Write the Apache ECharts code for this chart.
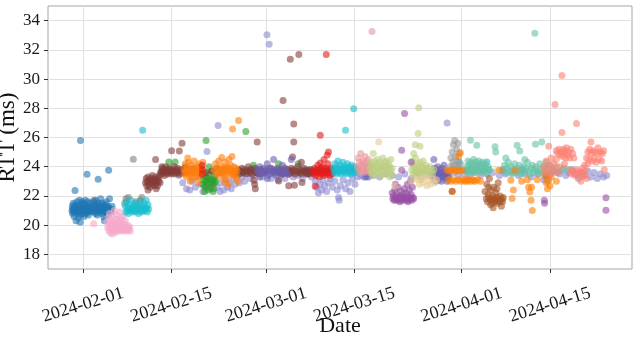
<!DOCTYPE html>
<html><head><meta charset="utf-8">
<script src="https://cdn.jsdelivr.net/npm/echarts@6/dist/echarts.min.js"></script>
<style>html,body{margin:0;padding:0;background:#fff}#c{width:640px;height:342px}</style>
</head><body><div id="c"></div>
<script>
// Each point: [days since 2024-02-01, RTT in ms]
const yTicks = [18,20,22,24,26,28,30,32,34];
const xTickLabels = ['2024-02-01','2024-02-15','2024-03-01','2024-03-15','2024-04-01','2024-04-15'];

const lavender = [[15.2,23.4],[15.8,22.9],[16.4,22.5],[16.9,22.4],[17.3,23.0],[17.8,22.6],[18.2,23.3],[18.6,22.8],[19.0,22.3],[19.4,22.7],[19.65,25.04],[19.8,23.2],[20.2,22.5],[20.6,22.9],[21.0,23.4],[21.4,26.82],[21.3,22.6],[21.7,22.3],[22.0,22.9],[22.3,22.4],[22.6,23.1],[22.9,22.6],[23.2,22.9],[23.5,22.5],[23.8,23.2],[24.1,22.8],[24.4,23.4],[24.8,22.9],[25.2,23.3],[25.6,23.0],[26.0,23.5],[26.5,23.2],[27.0,23.4],[27.5,23.6],[28.0,23.5],[28.4,23.3],[28.8,23.6],[29.15,33.03],[29.5,32.39],[29.3,23.4],[29.8,23.2],[30.3,23.5],[30.9,23.1],[31.4,23.4],[32.0,23.2],[32.6,23.5],[33.3,23.3],[34.0,23.4],[34.8,23.2],[35.5,23.5],[36.2,23.3],
[36.8,23.0],[37.0,22.6],[37.3,22.2],[37.5,22.8],[37.8,22.4],[38.0,23.1],[38.3,22.7],[38.6,22.3],[38.9,22.9],[39.2,23.2],[39.5,22.6],[39.9,23.0],[40.3,22.4],[40.5,21.9],[40.6,21.7],[40.8,22.7],[41.2,23.1],[41.6,22.5],[42.0,22.9],[42.3,22.3],[42.7,23.2],[43.1,22.8],[43.5,23.3],[44.0,23.4],[44.5,23.3],[45.0,23.5],
[46.0,23.4],[47.0,23.3],[48.0,23.5],[49.0,23.4],[50.0,23.3],[51.0,23.5],[52.0,23.2],[52.8,23.6],[53.5,23.3],[54.2,23.5],[55.0,23.4],[55.8,23.2],[56.5,23.5],[57.2,23.4],[57.7,27.0],[58.0,23.3],[58.8,23.6],[59.5,23.4],[60.5,23.5],[61.3,23.3],[62.0,23.6],[63.0,23.4],[64.0,23.5],[65.0,23.6],[66.0,23.4],[67.0,23.5],[68.0,23.6],[69.0,23.4],[70.0,23.5],[71.0,23.3],[72.0,23.5],[73.0,23.1],[73.3,23.3],[73.6,23.0],[74.0,23.5],[74.5,23.7],[75.0,23.6],[75.5,23.5],[76.0,23.8],[76.5,23.4],[77.0,23.6],[77.5,23.8],[78.0,23.5],[78.5,23.2],[79.0,23.6],[79.5,23.4],[80.0,23.7],[80.5,23.3],[81.0,23.6],[81.5,23.2],[82.0,23.5],[82.5,23.3],[83.0,23.4]];

const grayA = [[1.7,21.7],[6.6,21.5],[6.8,21.8],[7.2,21.9],[7.97,24.51],[8.4,21.6],[9.1,21.7],[9.3,21.9]];

const blue = [[-1.75,21.0],[-1.7,21.3],[-1.66,20.8],[-1.6,21.1],[-1.55,21.5],[-1.5,20.9],[-1.45,21.2],[-1.4,20.6],[-1.35,21.0],[-1.27,22.37],[-1.25,21.4],[-1.2,20.9],[-1.15,21.1],[-1.1,20.3],[-1.05,21.3],[-1.0,21.0],[-0.95,21.6],[-0.9,20.8],[-0.85,21.2],[-0.8,21.0],[-0.75,20.5],[-0.7,21.3],[-0.65,21.1],[-0.6,20.9],[-0.55,21.7],[-0.5,21.0],[-0.45,20.2],[-0.45,21.2],[-0.4,25.8],[-0.4,20.7],[-0.35,21.1],[-0.3,21.4],[-0.25,20.9],[-0.2,21.0],[-0.15,21.6],[-0.1,21.2],[-0.05,20.8],[0.0,21.1],[0.05,21.5],[0.1,21.0],[0.15,20.6],[0.2,21.3],[0.25,21.1],[0.3,20.9],[0.35,21.7],[0.4,21.2],[0.45,20.8],[0.5,21.0],[0.55,21.4],[0.63,23.49],[0.65,20.9],[0.7,21.2],[0.75,21.0],[0.8,21.6],[0.85,20.7],[0.9,21.1],[0.95,21.3],[1.0,20.9],[1.1,21.5],[1.2,21.0],[1.3,21.2],
[1.6,21.3],[1.65,21.0],[1.7,21.6],[1.75,20.9],[1.8,21.2],[1.9,21.4],[1.95,20.8],[2.0,21.1],[2.05,21.7],[2.1,21.0],[2.2,21.3],[2.25,20.7],[2.3,21.2],[2.4,23.14],[2.4,21.5],[2.45,21.0],[2.5,21.2],[2.6,20.9],[2.65,21.4],[2.7,21.1],[2.8,21.8],[2.85,21.0],[2.9,21.3],[3.0,20.8],[3.05,21.2],[3.1,21.5],[3.2,21.0],[3.25,21.3],[3.3,20.6],[3.4,20.3],[3.4,21.1],[3.5,21.4],[3.55,20.9],[3.6,21.2],[3.7,21.6],[3.75,21.0],[3.8,20.8],[3.9,21.3],[3.95,21.1],[4.0,20.7],[4.06,23.76],[4.1,21.2],[4.2,21.8],[4.3,21.0],[4.4,20.9],[4.5,21.1],[4.6,21.3]];

const pink = [[1.7,20.1],[3.8,20.2],[3.9,19.8],[4.0,20.5],[4.1,19.6],[4.15,20.0],[4.2,20.8],[4.3,19.9],[4.35,19.5],[4.4,20.3],[4.5,19.7],[4.55,20.1],[4.6,19.4],[4.7,20.6],[4.75,19.9],[4.8,20.2],[4.9,19.6],[4.95,21.0],[5.0,19.8],[5.1,20.4],[5.15,19.5],[5.2,20.0],[5.3,20.7],[5.35,19.7],[5.4,20.1],[5.5,19.9],[5.55,20.4],[5.6,19.6],[5.7,20.2],[5.75,19.8],[5.8,20.9],[5.9,19.7],[5.95,20.3],[6.0,19.9],[6.1,20.5],[6.15,19.6],[6.2,20.0],[6.3,19.8],[6.35,20.6],[6.4,19.7],[6.5,20.1],[6.55,19.9],[6.6,19.6],[6.7,20.3],[6.8,19.8],[6.9,19.7],[7.0,20.0],[7.1,19.6],[7.2,19.8],[7.3,19.7],[7.4,19.9],[7.5,19.6]];

const cyanA = [[6.7,21.3],[6.8,20.9],[6.9,21.6],[7.0,21.0],[7.1,21.2],[7.2,20.8],[7.3,21.4],[7.4,21.1],[7.5,21.0],[7.6,21.7],[7.7,21.2],[7.8,20.9],[7.9,21.1],[8.0,21.3],[8.1,21.0],[8.2,21.5],[8.3,20.9],[8.4,21.2],[8.5,21.0],[8.6,21.4],[8.7,21.1],[8.8,20.8],[8.9,21.2],[9.0,21.0],[9.1,21.6],[9.2,21.1],[9.3,20.9],[9.45,26.5],[9.4,21.3],[9.5,21.0],[9.6,21.2],[9.7,21.5],[9.8,21.0],[9.9,21.1],[10.0,21.7],[10.1,21.2],[10.2,20.9],[10.3,21.4],[10.4,21.1]];

const maroon = [[9.9,22.9],[10.0,23.2],[10.1,22.7],[10.2,23.0],[10.3,23.3],[10.3,22.4],[10.4,22.8],[10.5,23.1],[10.6,22.6],[10.7,23.0],[10.8,23.2],[10.9,22.9],[11.0,23.4],[11.1,22.8],[11.2,23.1],[11.3,22.7],[11.4,23.0],[11.5,24.5],[11.5,23.3],[11.6,22.9],[11.6,22.5],[11.7,23.1],[11.8,22.7],[11.9,23.2],[12.0,23.0],[12.1,23.4],[12.2,22.9],[12.3,23.6],[12.5,24.0],
[12.4,23.7],[12.5,23.5],[12.6,23.9],[12.7,23.6],[12.8,23.8],[12.9,23.4],[13.0,23.7],[13.1,24.0],[13.2,23.6],[13.3,23.8],[13.4,23.5],[13.5,23.7],[13.6,23.9],[13.7,23.6],[13.8,23.8],[13.9,23.7],[14.04,25.1],[14.0,23.5],[14.2,23.8],[14.3,23.6],[14.4,24.0],[14.5,23.7],[14.6,23.5],[14.8,23.8],[14.9,23.6],[15.0,23.9],[15.2,23.7],[15.26,25.08],[15.3,23.5],[15.5,23.8],[15.7,25.6],[15.7,23.6],[15.9,23.7],[16.1,23.9],[16.3,23.6],[16.6,23.7],[17.0,23.8],[17.4,23.6],
[18.0,23.7],[18.6,23.8],[19.5,23.6],[20.4,23.7],[21.2,23.9],[22.0,23.6],[22.6,23.8],[23.4,23.7],[24.2,23.6],[24.6,23.8],[24.8,23.5],[25.0,23.7],[25.2,23.9],[25.4,23.6],[25.6,23.8],[25.8,23.5],[26.0,23.7],[26.2,24.0],[26.4,23.6],[26.6,23.8],[26.8,23.5],[27.0,23.7],[27.2,23.9],[27.1,23.07],[27.3,22.5],[27.2,22.8],[27.4,23.6],[27.6,25.7],[27.6,23.8],[27.8,23.5],[28.0,23.7],
[28.2,23.8],[28.6,23.6],[29.0,23.7],[29.6,23.9],[30.2,23.7],[30.8,23.8],[31.0,23.03],[31.2,23.6],[31.4,23.8],[31.6,23.5],[31.7,28.53],[31.8,23.7],[32.0,23.9],[32.2,23.6],[32.4,23.8],[32.6,22.7],[32.6,23.5],[32.85,31.36],[32.8,23.7],[33.0,23.9],[33.2,24.67],[33.2,23.6],[33.4,26.93],[33.4,25.7],[33.5,22.73],[33.4,23.8],[33.6,23.5],[33.8,23.7],[34.0,24.0],[34.2,31.68],[34.2,23.6],[34.4,23.8],[34.6,24.3],[34.7,22.92],[34.6,23.5],[34.8,23.7],[35.0,23.9],[35.2,23.6],[35.5,23.5],[35.4,23.8],[35.6,23.7],[35.8,23.5],[36.0,23.8],[36.2,23.6],[36.4,23.7]];

const green = [[18.9,23.4],[19.0,22.8],[19.1,23.1],[19.2,23.6],[19.3,22.6],[19.3,22.3],[19.4,23.0],[19.5,25.79],[19.5,23.3],[19.6,22.7],[19.7,23.1],[19.8,22.4],[19.9,23.5],[20.0,22.9],[20.0,24.0],[20.1,23.2],[20.2,22.6],[20.3,23.0],[20.4,23.7],[20.5,22.8],[20.6,23.1],[20.6,22.3],[20.7,22.5],[20.8,23.3],[20.9,22.9],[21.0,23.0],
[13.6,24.33],[14.6,24.33],[16.2,24.0],[17.5,23.9],[21.8,23.8],[24.8,23.7],[25.3,23.6],[25.8,26.41],[26.0,23.7],[26.5,23.8],[27.0,24.1],[27.5,23.6],[28.3,23.7],[30.5,23.6],[31.0,24.2],[31.4,23.7],[32.3,23.6],[33.1,23.7],[34.1,24.2],[34.5,23.6],[35.1,23.7],[35.7,23.6],[36.1,23.8]];

const orangeA = [[16.0,23.8],[16.1,23.5],[16.2,24.2],[16.3,23.7],[16.4,23.3],[16.5,23.9],[16.6,23.6],[16.6,24.6],[16.7,24.3],[16.8,23.8],[16.9,23.4],[17.0,23.7],[17.0,23.0],[17.1,24.1],[17.2,23.5],[17.3,23.9],[17.4,23.2],[17.5,23.7],[17.6,24.4],[17.7,23.6],[17.8,23.8],[17.9,23.3],[18.0,24.0],[18.1,23.6],[18.2,23.9],[18.3,23.4],[18.3,22.9],[18.4,24.2],[18.5,23.7],[18.6,23.5],[18.7,24.0],[18.8,23.8],[18.9,23.6],[19.0,24.3],
[20.8,23.8],[21.0,24.2],[21.1,23.5],[21.2,23.9],[21.4,23.6],[21.5,24.4],[21.6,23.7],[21.8,23.3],[21.9,24.0],[22.0,24.63],[22.1,23.6],[22.2,23.9],[22.3,23.4],[22.4,23.8],[22.5,24.3],[22.5,22.9],[22.6,23.7],[22.7,23.2],[22.8,24.0],[22.9,23.6],[23.0,23.9],[23.0,22.8],[23.1,24.5],[23.2,23.5],[23.3,23.8],[23.4,24.1],[23.5,23.6],[23.6,24.7],[23.7,26.59],[23.7,23.7],[23.8,23.4],[23.9,24.0],[24.0,23.7],[24.1,23.5],[24.2,23.9],[24.3,23.2],[24.4,23.7],[24.5,23.0],[24.65,27.16]];

const red = [[18.9,24.1],[18.95,23.8],[18.9,23.5],[36.5,23.7],[36.6,23.5],[36.7,23.9],[36.8,23.6],[36.8,22.66],[36.9,23.4],[37.0,23.8],[37.1,23.6],[37.2,24.1],[37.3,23.7],[37.4,23.3],[37.5,23.8],[37.6,26.16],[37.6,24.26],[37.6,23.6],[37.7,23.9],[37.8,23.5],[37.9,23.7],[38.0,24.0],[38.1,23.6],[38.2,23.4],[38.2,24.5],[38.3,23.8],[38.4,23.6],[38.55,31.68],[38.5,23.9],[38.6,23.5],[38.7,23.7],[38.7,24.8],[38.8,24.2],[38.9,25.0],[38.9,23.6],[39.0,23.8],[39.1,23.4],[39.2,23.7],[39.3,23.9],[39.4,23.5],[39.5,23.7],[39.6,23.6],[39.7,23.8]];

const slate = [[27.6,23.8],[27.8,23.6],[28.0,24.0],[28.0,23.3],[28.2,23.7],[28.4,23.5],[28.6,23.9],[28.8,23.6],[29.0,23.8],[29.2,24.2],[29.2,23.2],[29.4,23.7],[29.6,23.5],[29.8,23.9],[30.0,23.6],[30.2,24.5],[30.2,23.8],[30.4,23.7],[30.6,23.4],[30.8,23.9],[31.0,23.6],[31.2,23.8],[31.4,23.5],[31.6,24.1],[31.8,23.7],[32.0,23.6],[32.2,23.8],[32.4,23.5],[33.0,24.5],[44.8,23.3],[45.2,23.3],
[55.5,23.6],[55.6,23.2],[55.6,24.5],[55.7,23.9],[55.8,23.4],[55.9,23.0],[56.0,23.7],[56.1,23.3],[56.2,24.0],[56.3,23.5],[56.4,23.1],[56.5,23.8],[56.6,23.4],[56.7,23.6],[56.8,23.0],[56.9,23.9],[57.0,23.3],[57.1,23.6],[57.2,24.1],[57.3,23.4],[57.4,23.2],[57.5,23.7],[57.6,23.5],[57.7,23.0],[57.8,23.6],[57.9,23.3],[66.5,23.76],[69.5,23.76],[73.5,23.4]];

const cyanB = [[39.7,23.9],[39.8,23.6],[39.9,24.2],[40.0,23.8],[40.1,23.5],[40.2,24.0],[40.3,23.7],[40.4,24.4],[40.5,23.9],[40.6,23.6],[40.7,23.8],[40.8,24.1],[40.9,23.5],[41.0,23.9],[41.1,23.7],[41.2,24.3],[41.3,23.8],[41.4,23.6],[41.5,24.0],[41.6,26.5],[41.6,23.7],[41.7,23.9],[41.8,23.5],[41.9,24.2],[42.0,23.8],[42.1,23.6],[42.2,24.0],[42.3,23.7],[42.4,23.9],[42.5,23.5],[42.6,24.1],[42.7,23.8],[42.8,23.6],[42.9,27.96],[42.9,23.9],[43.0,23.7],[43.1,24.0],[43.2,23.6],[43.4,23.8],[43.5,23.7],[59.6,24.33],[60.5,23.76],[61.0,23.76],[64.0,24.33],[64.3,23.8]];

const pinkB = [[43.5,24.0],[43.6,24.6],[43.7,23.8],[43.8,24.3],[43.9,23.6],[44.0,24.9],[44.1,24.1],[44.2,23.7],[44.3,24.4],[44.4,23.9],[44.5,24.2],[44.6,23.6],[44.7,24.7],[44.8,24.0],[44.9,23.8],[45.0,24.3],[45.1,23.7],[45.2,24.5],[45.3,23.9],[45.4,24.1],[45.5,23.6],[45.6,24.0],[45.8,33.26]];

const yellowGreen = [[45.5,23.9],[45.6,24.3],[45.7,23.6],[45.8,24.0],[45.9,23.4],[46.0,24.9],[46.0,24.1],[46.1,23.7],[46.2,24.4],[46.3,23.9],[46.4,23.5],[46.5,24.2],[46.6,23.8],[46.7,24.5],[46.8,24.0],[46.9,23.6],[47.0,24.3],[47.1,23.9],[47.2,23.4],[47.3,24.1],[47.4,23.7],[47.5,24.6],[47.6,24.0],[47.7,23.8],[47.8,24.3],[47.9,23.5],[48.0,24.0],[48.1,24.4],[48.2,23.7],[48.3,23.9],[48.4,24.2],[48.5,23.6],[48.6,24.0],[48.6,23.3],[48.7,23.8],[48.8,24.5],[48.9,23.5],[49.0,23.9],
[52.1,23.8],[52.2,24.4],[52.3,23.5],[52.4,24.1],[52.4,24.9],[52.5,23.9],[52.65,25.5],[52.6,23.6],[52.7,24.6],[52.8,23.8],[52.9,23.3],[53.0,24.2],[53.1,26.27],[53.1,23.7],[53.2,28.03],[53.2,24.0],[53.3,23.5],[53.4,25.4],[53.4,24.3],[53.5,23.8],[53.6,23.1],[53.7,24.0],[53.8,23.6],[53.9,24.4],[54.0,23.9],[54.1,23.4],[54.2,23.7],[54.3,24.1],[54.4,23.8],[54.5,23.5],[54.6,23.9],[54.8,23.6],[55.0,24.0],[55.2,23.7],[55.4,23.5],[55.6,23.8]];

const purple = [[49.0,22.2],[49.1,21.8],[49.2,22.0],[49.3,21.7],[49.4,22.4],[49.5,21.9],[49.5,22.8],[49.6,21.7],[49.7,22.1],[49.8,21.8],[49.9,22.6],[50.0,21.9],[50.1,21.7],[50.2,22.0],[50.2,21.6],[50.3,21.8],[50.4,22.3],[50.5,25.13],[50.5,23.76],[50.5,21.9],[50.6,21.7],[50.7,22.1],[50.8,21.8],[50.9,22.5],[50.96,27.64],[51.0,21.9],[51.1,21.7],[51.2,22.2],[51.3,21.8],[51.4,22.8],[51.5,22.0],[51.5,21.6],[51.6,21.7],[51.7,22.4],[51.8,21.9],[51.9,23.0],[51.9,21.8],[52.0,24.3],[52.0,22.1],[52.1,21.7],[52.2,22.6],[52.3,21.9],[52.4,21.8],[73.1,21.7],[73.15,21.5],[82.87,21.87],[82.87,21.02]];

const tan = [[46.85,25.7],[49.4,22.7],[52.0,23.0],[53.0,23.1],[53.3,22.8],[53.6,23.2],[53.9,22.9],[54.2,23.3],[54.5,22.7],[54.8,23.0],[55.1,22.8],[55.4,23.2],[55.7,22.9],[56.0,23.1],[62.2,23.07],[65.6,23.76]];

const grayB = [[58.2,24.0],[58.3,24.6],[58.4,23.8],[58.5,25.0],[58.6,24.3],[58.7,25.5],[58.8,24.1],[58.9,25.8],[59.0,24.7],[59.1,23.9],[59.2,25.2],[59.3,24.4],[59.4,25.6],[59.5,24.0],[59.6,24.9],[59.7,23.8],[59.8,24.2]];

const teal = [[60.8,24.0],[60.9,23.6],[61.0,24.4],[61.1,23.8],[61.2,24.1],[61.4,25.82],[61.3,23.7],[61.4,24.3],[61.5,23.9],[61.6,23.6],[61.7,24.2],[61.8,23.8],[61.9,24.5],[62.0,24.0],[62.1,23.7],[62.2,24.3],[62.3,23.9],[62.4,25.47],[62.4,23.6],[62.5,24.1],[62.6,23.8],[62.7,24.4],[62.8,24.0],[62.9,23.7],[63.0,24.2],[63.1,23.9],[63.2,23.6],[63.3,24.3],[63.4,23.8],[63.5,24.0],[63.6,23.7],[63.7,24.2],[63.8,23.9],[64.0,23.6],[64.2,24.0],[64.4,23.8],[65.3,25.36],[65.4,25.0],
[66.6,23.8],[66.8,24.1],[67.0,23.6],[67.0,24.6],[67.2,23.9],[67.4,24.3],[67.6,23.7],[67.8,24.0],[68.0,23.5],[68.2,23.8],[68.4,24.2],[68.6,23.6],[68.8,25.47],[68.8,23.9],[69.0,23.7],[69.2,25.08],[69.2,24.1],[69.4,23.5],[69.6,23.8],[69.8,24.0],[70.0,23.6],[70.0,24.5],[70.2,23.9],[70.4,24.3],[70.6,23.7],[70.8,23.5],[71.0,23.9],[71.2,24.1],[71.4,23.6],[71.6,33.14],[71.6,23.8],[71.7,25.54],[71.8,24.0],[72.0,23.7],[72.2,23.5],[72.4,24.2],[72.6,23.8],[72.7,25.7],[72.8,23.6],[73.0,24.0],[73.2,23.7],[73.4,24.3],[73.6,23.9],[73.8,23.6],[74.0,24.1],[74.4,23.8],[75.0,24.0],[75.6,23.7],[76.2,23.9],[76.8,23.8]];

const orangeB = [[57.7,23.76],[57.9,23.1],[58.1,23.7],[58.3,23.0],[58.5,23.8],[58.5,22.3],[58.7,23.1],[58.9,23.7],[59.1,23.0],[59.3,23.76],[59.5,24.7],[59.5,23.1],[59.7,23.7],[59.8,24.95],[59.9,23.0],[60.1,23.76],[60.3,23.1],[60.5,23.0],[60.7,23.1],[60.9,23.0],[61.2,23.1],[61.5,23.0],[61.8,23.1],[62.1,23.0],[62.5,23.1],[63.0,23.0],[66.0,23.76],[67.8,23.07],[68.0,21.82],[68.2,22.4],[68.5,23.76],[69.5,23.0],[70.4,23.1],[70.6,22.6],[70.8,22.27],[71.0,21.7],[71.1,22.6],[71.2,21.0],[72.0,23.1],[73.2,23.4],[73.4,22.9],[73.6,22.5],[73.8,23.1],[74.0,22.7],[74.2,23.3],[75.0,23.0]];

const brown = [[58.5,22.32],[63.7,22.3],[63.9,21.8],[64.0,22.8],[64.1,21.6],[64.2,22.1],[64.3,21.9],[64.3,22.6],[64.4,23.2],[64.5,21.7],[64.6,22.4],[64.6,21.4],[64.7,21.8],[64.8,21.5],[64.9,22.0],[65.0,21.7],[65.0,21.2],[65.1,22.6],[65.2,21.8],[65.3,21.6],[65.4,22.2],[65.5,21.7],[65.6,21.9],[65.6,22.5],[65.7,21.5],[65.8,22.9],[65.9,21.8],[66.0,21.6],[66.1,22.0],[66.2,21.7],[66.3,21.3],[66.4,21.8],[66.5,21.6],[66.6,21.9]];

const salmon = [[73.0,24.0],[73.2,23.6],[73.4,24.4],[73.6,23.8],[73.8,25.4],[73.8,24.1],[74.0,23.5],[74.2,24.6],[74.4,23.9],[74.6,24.2],[74.8,28.26],[74.8,23.7],[75.0,24.5],[75.0,25.1],[75.2,24.9],[75.3,23.6],[75.4,25.2],[75.5,24.0],[75.6,24.8],[75.8,25.0],[75.9,26.34],[75.9,30.25],[76.0,24.7],[76.1,25.2],[76.2,24.9],[76.3,24.2],[76.4,25.1],[76.5,24.6],[76.6,25.3],[76.8,24.8],[77.0,25.0],[77.1,24.6],[77.2,23.8],[77.3,25.2],[77.4,23.5],[77.6,24.9],[77.7,23.7],[77.8,24.6],[78.0,23.4],[78.2,26.96],[78.2,23.8],[78.4,23.5],[78.6,23.7],[78.8,23.3],[78.9,23.0],[79.0,23.6],[79.2,23.9],[79.4,23.4],[79.5,24.1],[79.6,23.7],[79.8,23.2],[79.8,24.6],[80.0,24.2],[80.0,25.0],[80.2,24.5],[80.3,25.2],[80.5,25.7],[80.5,24.9],[80.7,24.4],[80.8,25.1],[81.0,24.6],[81.2,25.0],[81.3,24.3],[81.5,24.9],[81.6,25.3],[81.8,24.5],[82.0,25.0],[82.2,24.4],[82.3,24.9],[82.5,25.1],[82.6,23.8]];

const groups = [
  ['lavender', lavender, '#8c8ad0'],
  ['grayA', grayA, '#7f7f7f'],
  ['blue', blue, '#1f77b4'],
  ['pink', pink, '#f7a8cc'],
  ['cyanA', cyanA, '#17becf'],
  ['green', green, '#2ca02c'],
  ['maroon', maroon, '#843c39'],
  ['orangeA', orangeA, '#ff7f0e'],
  ['red', red, '#e41a1c'],
  ['slate', slate, '#6a5fb0'],
  ['cyanB', cyanB, '#17becf'],
  ['pinkB', pinkB, '#e7969c'],
  ['yellowGreen', yellowGreen, '#bccf80'],
  ['purple', purple, '#984ea3'],
  ['tan', tan, '#e7cb94'],
  ['grayB', grayB, '#999999'],
  ['teal', teal, '#66c2a5'],
  ['orangeB', orangeB, '#ff7f00'],
  ['brown', brown, '#a65628'],
  ['salmon', salmon, '#fb8072']
];

const DAY = 86400000;
const base = Date.parse('2024-02-01T00:00:00Z');
const xTicks = xTickLabels.map(s => Date.parse(s + 'T00:00:00Z'));
const font = '"Liberation Serif", "DejaVu Serif", serif';

const chart = echarts.init(document.getElementById('c'), null, {renderer: 'canvas'});
chart.setOption({
  animation: false,
  backgroundColor: '#ffffff',
  grid: {left: 48, right: 8, top: 6, bottom: 73, containLabel: false, outerBoundsMode: 'none',
         show: true, borderColor: '#a6a6a6', borderWidth: 1, backgroundColor: '#ffffff'},
  xAxis: {
    type: 'value',
    min: base - 5.55 * DAY,
    max: base + 87.0 * DAY,
    name: 'Date',
    nameLocation: 'middle',
    nameGap: 46,
    nameMoveOverlap: false,
    nameTextStyle: {fontFamily: font, fontSize: 22, color: '#111'},
    axisLine: {show: false},
    axisTick: {show: true, length: 4, lineStyle: {color: '#333', width: 1}, customValues: xTicks},
    axisLabel: {
      customValues: xTicks,
      rotate: 17, align: 'center', verticalAlign: 'middle', margin: 36,
      fontFamily: font, fontSize: 18, color: '#1a1a1a',
      formatter: v => xTickLabels[xTicks.indexOf(v)] || ''
    },
    splitLine: {show: true, lineStyle: {color: '#e0e0e0', width: 1}}
  },
  yAxis: {
    type: 'value',
    min: 17, max: 35,
    name: 'RTT (ms)',
    nameLocation: 'middle',
    nameGap: 29,
    nameMoveOverlap: false,
    nameTextStyle: {fontFamily: font, fontSize: 23, color: '#111'},
    axisLine: {show: false},
    axisTick: {show: true, length: 4, lineStyle: {color: '#333', width: 1}, customValues: yTicks},
    axisLabel: {customValues: yTicks, margin: 8, fontFamily: font, fontSize: 17, color: '#1a1a1a'},
    splitLine: {show: true, lineStyle: {color: '#e0e0e0', width: 1}}
  },
  series: groups.map(([name, pts, color]) => ({
    name, type: 'scatter',
    symbol: 'circle', symbolSize: 7,
    itemStyle: {color, opacity: 0.6},
    emphasis: {disabled: true},
    data: pts.map(p => [base + p[0] * DAY, p[1]])
  }))
});
</script></body></html>
